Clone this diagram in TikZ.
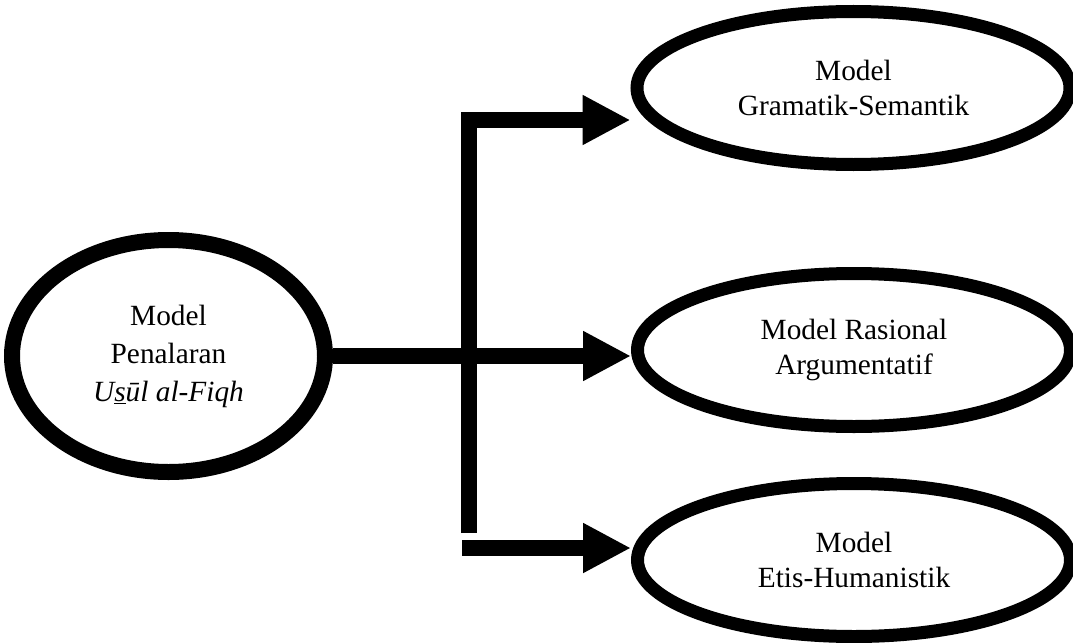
\documentclass[tikz,border=0pt]{standalone}
\usepackage{fontspec}
\setmainfont{Liberation Serif}
\usetikzlibrary{arrows.meta,shapes}
\tikzstyle{model}=[ellipse,draw=black,line width=9.75pt,inner sep=0pt,align=center,
  minimum width=324.75pt,minimum height=114.75pt,font=\fontsize{22}{26}\selectfont]
\tikzstyle{root}=[model,line width=12pt,minimum width=234.75pt,minimum height=174pt,
  font=\fontsize{22}{28.5}\selectfont]
\tikzstyle{fat}=[line width=12pt,-{Triangle[length=36pt,width=35pt]}]

\begin{document}
\begin{tikzpicture}[x=0.75pt,y=-0.75pt]
          \useasboundingbox (0,0) rectangle (1073,642);

          \node[root]  (src) at (168.5,356) {Model\\Penalaran\\\textit{U\underline{s}ūl al-Fiqh}};

          \node[model] (top) at (853.5,88)  {Model\\Gramatik-Semantik};
          \node[model] (mid) at (854,350)   {Model Rasional\\Argumentatif};
          \node[model] (low) at (854,560)   {Model\\Etis-Humanistik};

          \coordinate (trunk) at (469,533);
          \coordinate (foot)  at (462,548);

          \draw[fat] (trunk) |- ([yshift=-24pt]top.west);
          \draw[fat] (src.east) -- (src.east -| mid.west);
          \draw[fat] (foot) -- (foot -| low.west);
        \end{tikzpicture}
\end{document}
